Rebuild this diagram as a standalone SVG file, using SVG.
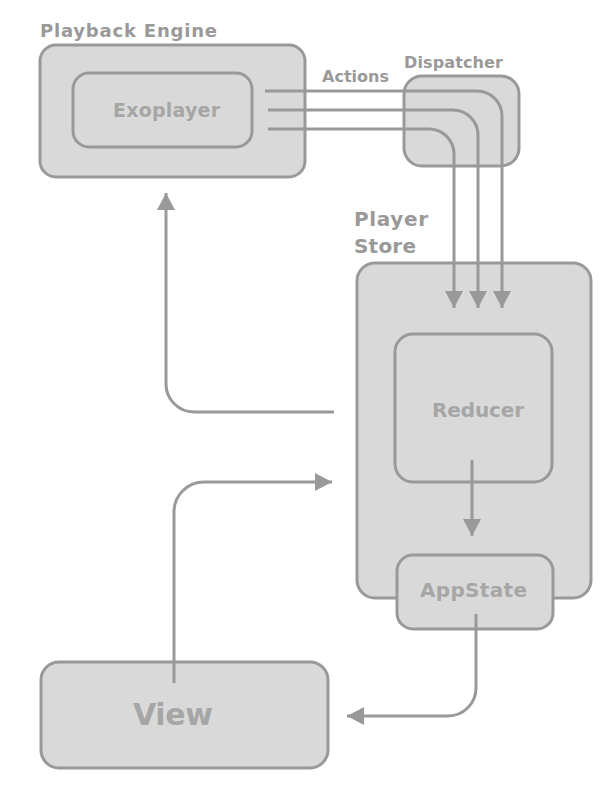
<svg xmlns="http://www.w3.org/2000/svg" width="612" height="792" viewBox="0 0 612 792">
<defs>
<style>
.box{fill:#d9d9d9;stroke:#999;stroke-width:3}
.edge{fill:none;stroke:#999;stroke-width:3}
.lbl{font-family:"DejaVu Sans","Liberation Sans",sans-serif;font-weight:bold;fill:#999}
.in{font-family:"DejaVu Sans","Liberation Sans",sans-serif;font-weight:bold;fill:#a6a6a6}
</style>
<marker id="ah" viewBox="0 0 17 18" refX="17" refY="9" markerWidth="17" markerHeight="18" markerUnits="userSpaceOnUse" orient="auto">
<path d="M0,0 L17,9 L0,18 Z" fill="#999"/>
</marker>
</defs>
<rect width="612" height="792" fill="#fff"/>
<g id="playback-engine">
<rect class="box" x="40" y="45" width="265" height="132" rx="16"/>
<text class="lbl" x="40" y="37" font-size="18" textLength="177">Playback Engine</text>
</g>
<g id="exoplayer">
<rect class="box" x="73" y="73" width="179" height="74" rx="16"/>
<text class="in" x="113" y="117" font-size="19" textLength="107">Exoplayer</text>
</g>
<g id="dispatcher">
<rect class="box" x="404" y="76" width="115" height="90" rx="18"/>
<text class="lbl" x="404" y="68" font-size="16" textLength="99">Dispatcher</text>
</g>
<g id="player-store">
<rect class="box" x="357" y="263" width="234" height="335" rx="18"/>
<text class="lbl" x="354" y="226" font-size="20" textLength="74">Player</text>
<text class="lbl" x="354" y="253" font-size="20" textLength="62">Store</text>
</g>
<g id="reducer">
<rect class="box" x="395" y="334" width="157" height="148" rx="18"/>
<text class="in" x="432" y="417" font-size="20" textLength="92">Reducer</text>
</g>
<g id="appstate">
<rect class="box" x="397" y="555" width="156" height="74" rx="16"/>
<text class="in" x="420" y="597" font-size="20" textLength="107">AppState</text>
</g>
<g id="view">
<rect class="box" x="41" y="662" width="287" height="106" rx="18"/>
<text class="in" x="133" y="725" font-size="30" textLength="80">View</text>
</g>
<g id="connectors">
<text class="lbl" x="322" y="82" font-size="16" textLength="67">Actions</text>
<path class="edge" d="M265,91 H477 A25,25 0 0 1 502,116 V308" marker-end="url(#ah)"/>
<path class="edge" d="M268,110 H453 A25,25 0 0 1 478,135 V308" marker-end="url(#ah)"/>
<path class="edge" d="M268,129 H429 A25,25 0 0 1 454,154 V308" marker-end="url(#ah)"/>
<path class="edge" d="M472,460 V536" marker-end="url(#ah)"/>
<path class="edge" d="M476,614 V688 A28,28 0 0 1 448,716 H347" marker-end="url(#ah)"/>
<path class="edge" d="M174,683 V512 A30,30 0 0 1 204,482 H332" marker-end="url(#ah)"/>
<path class="edge" d="M334,412 H194 A28,28 0 0 1 166,384 V193" marker-end="url(#ah)"/>
</g>
</svg>
